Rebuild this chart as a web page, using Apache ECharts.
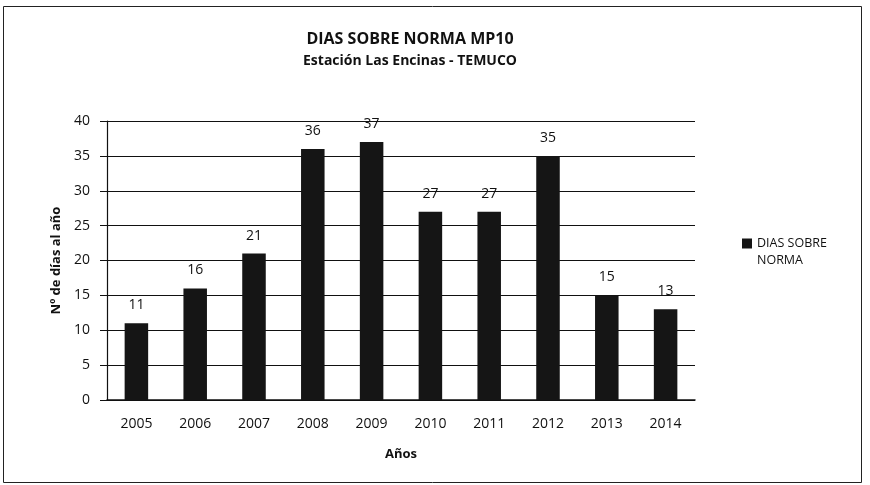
<!DOCTYPE html>
<html><head><meta charset="utf-8">
<script src="https://cdn.jsdelivr.net/npm/echarts@6/dist/echarts.min.js"></script>
<style>html,body{margin:0;padding:0;background:#fff}#c{width:870px;height:485px}</style>
</head><body><div id="c"></div>
<script>
const years = ['2005','2006','2007','2008','2009','2010','2011','2012','2013','2014'];
const dias = [11,16,21,36,37,27,27,35,15,13];
const seriesName = 'DIAS SOBRE NORMA';
const titleText = 'DIAS SOBRE NORMA MP10';
const subtitleText = 'Estación Las Encinas - TEMUCO';
const yName = 'Nº de días al año';
const xName = 'Años';

const chart = echarts.init(document.getElementById('c'));
const F = 'Open Sans';
chart.setOption({
  animation:false,
  backgroundColor:'#fff',
  title:{text:titleText, subtext:subtitleText, left:405, textAlign:'center', top:26, itemGap:7,
    textStyle:{fontFamily:F,fontWeight:'bold',fontSize:16,color:'#111'},
    subtextStyle:{fontFamily:F,fontWeight:'bold',fontSize:14,color:'#111'}},
  legend:{data:[seriesName], left:737, top:230, orient:'vertical', itemWidth:10, itemHeight:27, itemGap:4,
    icon:'path://M0,0h10v10h-10z M0,27h0', formatter:()=>'DIAS SOBRE\nNORMA',
    textStyle:{fontFamily:F,fontSize:12.5,color:'#111',lineHeight:17}},
  grid:{left:107, right:175, top:121, bottom:85},
  graphic:[{type:'rect', shape:{x:3.5,y:6.5,width:858,height:476}, style:{fill:null, stroke:'#222', lineWidth:1}}],
  xAxis:{type:'category', data:years, name:xName, nameLocation:'middle', nameGap:48,
    nameTextStyle:{fontFamily:F,fontWeight:'bold',fontSize:13,color:'#111'},
    axisLine:{lineStyle:{color:'#111',width:1.5}}, axisTick:{show:false},
    axisLabel:{fontFamily:F,fontSize:14,color:'#111',margin:17}},
  yAxis:{type:'value', min:0, max:40, interval:5, name:yName, nameLocation:'middle', nameGap:42,
    nameTextStyle:{fontFamily:F,fontWeight:'bold',fontSize:13,color:'#111'},
    axisLine:{show:true,lineStyle:{color:'#111',width:1.2}}, axisTick:{show:true,length:7,lineStyle:{color:'#111'}},
    splitLine:{lineStyle:{color:'#111',width:1}},
    axisLabel:{fontFamily:F,fontSize:14,color:'#111',margin:17}},
  series:[{name:seriesName, type:'bar', data:dias, barWidth:'40%', itemStyle:{color:'#151515'},
    label:{show:true, position:'top', distance:11, fontFamily:F, fontSize:14, color:'#111'}}]
});
</script></body></html>
